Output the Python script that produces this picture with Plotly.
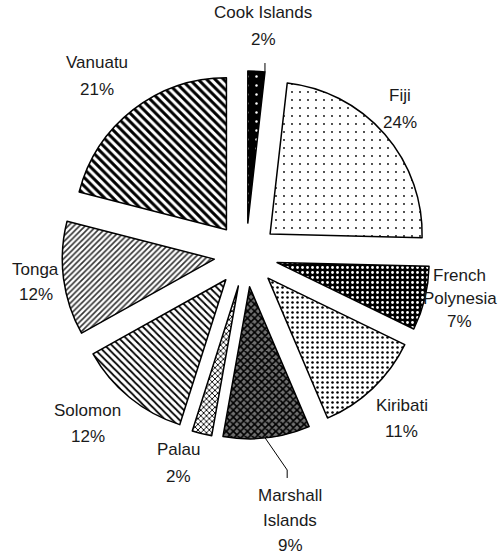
import math
import plotly.graph_objects as go

# ---- data (labels show rounded percentages) ----
categories = ["Cook Islands", "Fiji", "French Polynesia", "Kiribati", "Marshall Islands",
              "Palau", "Solomon", "Tonga", "Vanuatu"]
label_lines = [["Cook Islands"], ["Fiji"], ["French", "Polynesia"], ["Kiribati"],
               ["Marshall", "Islands"], ["Palau"], ["Solomon"], ["Tonga"], ["Vanuatu"]]
shares = [1.8, 23.6, 6.8, 11.4, 9.2, 2.1, 12.0, 12.1, 21.0]

# ---- styles ----
pattern_shapes = [".", ".", ".", ".", "x", "x", "\\", "/", "\\"]
pattern_fg = ["white", "black", "white", "black", "black", "black", "black", "#333333", "black"]
pattern_bg = ["black", "white", "black", "white", "#707070", "white", "white", "white", "white"]
pattern_size = [9, 8, 5, 5, 5, 4, 5, 4, 6]
pattern_solid = [0.06, 0.04, 0.25, 0.2, 0.55, 0.4, 0.35, 0.4, 0.5]

PULL = 0.21
AREA = 368                      # plot area side (px)
M_L, M_T = 62, 71
M_R = 503 - M_L - AREA
M_B = 554 - M_T - AREA
R_TOTAL = AREA / 2              # radius of pulled pie envelope in px
R_PIE = R_TOTAL / (1 + PULL)
D_PULL = R_PIE * PULL

# label placement style: distance from pie centre (px) and small angular nudge (deg)
label_radius = [230, 212, 218, 226, 269, 219, 231, 212, 233]
label_nudge = [1.0, -2.5, -2.2, 0.0, -3.0, 4.0, 4.0, 0.0, -2.0]
line_gap = [27, 27, 23, 26, 25, 27, 26, 25, 27]
FONT = dict(family="Liberation Sans, Arial, sans-serif", size=17, color="#1a1a1a")

fig = go.Figure(go.Pie(
    labels=categories,
    values=shares,
    sort=False,
    direction="clockwise",
    rotation=0,
    pull=[PULL] * len(shares),
    textinfo="none",
    automargin=False,
    marker=dict(
        colors=pattern_bg,
        line=dict(color="black", width=1.5),
        pattern=dict(shape=pattern_shapes, fgcolor=pattern_fg, bgcolor=pattern_bg,
                     size=pattern_size, solidity=pattern_solid, fillmode="replace"),
    ),
    showlegend=False,
    hoverinfo="label+percent",
))


def to_paper(dx, dy):
    """pixel offset from pie centre (dy downward) -> paper coords"""
    return 0.5 + dx / AREA, 0.5 - dy / AREA


total = sum(shares)
cum = 0.0
annotations = []
mids, ends = [], []
for i, v in enumerate(shares):
    a0 = cum / total * 360
    cum += v
    a1 = cum / total * 360
    mid = (a0 + a1) / 2
    mids.append(mid)
    ends.append(a1)
    pct = f"{round(v / total * 100):.0f}%"
    lines = label_lines[i] + [pct]
    ang = math.radians(mid + label_nudge[i])
    dx = label_radius[i] * math.sin(ang)
    dy = -label_radius[i] * math.cos(ang)
    x, y = to_paper(dx, dy)
    n = len(lines)
    for k, txt in enumerate(lines):
        annotations.append(dict(
            x=x, y=y, xref="paper", yref="paper", text=txt, showarrow=False,
            xanchor="center", yanchor="middle",
            yshift=((n - 1) / 2 - k) * line_gap[i], font=FONT,
        ))


def arc_point(idx, ang_deg):
    m = math.radians(mids[idx])
    a = math.radians(ang_deg)
    px = D_PULL * math.sin(m) + R_PIE * math.sin(a)
    py = -D_PULL * math.cos(m) - R_PIE * math.cos(a)
    return px, py


shapes = []
# leader line for Cook Islands (from slice corner straight up)
sx, sy = arc_point(0, ends[0])
p0 = to_paper(sx, sy)
p1 = to_paper(sx, sy - 9)
shapes.append(dict(type="path", xref="paper", yref="paper",
                   path=f"M {p0[0]},{p0[1]} L {p1[0]},{p1[1]}",
                   line=dict(color="black", width=1)))
# leader line for Marshall Islands (from arc down to label)
sx, sy = arc_point(4, mids[4] + 0.6)
p0 = to_paper(sx, sy)
p1 = to_paper(sx + 22, sy + 32)
p2 = to_paper(sx + 22, sy + 40)
shapes.append(dict(type="path", xref="paper", yref="paper",
                   path=f"M {p0[0]},{p0[1]} L {p1[0]},{p1[1]} L {p2[0]},{p2[1]}",
                   line=dict(color="black", width=1)))

fig.update_layout(
    width=503, height=554,
    margin=dict(l=M_L, r=M_R, t=M_T, b=M_B),
    paper_bgcolor="white",
    plot_bgcolor="white",
    showlegend=False,
    annotations=annotations,
    shapes=shapes,
)

fig.write_html("out.html", config={"displayModeBar": False},
               post_script="document.body.style.margin='0';")
